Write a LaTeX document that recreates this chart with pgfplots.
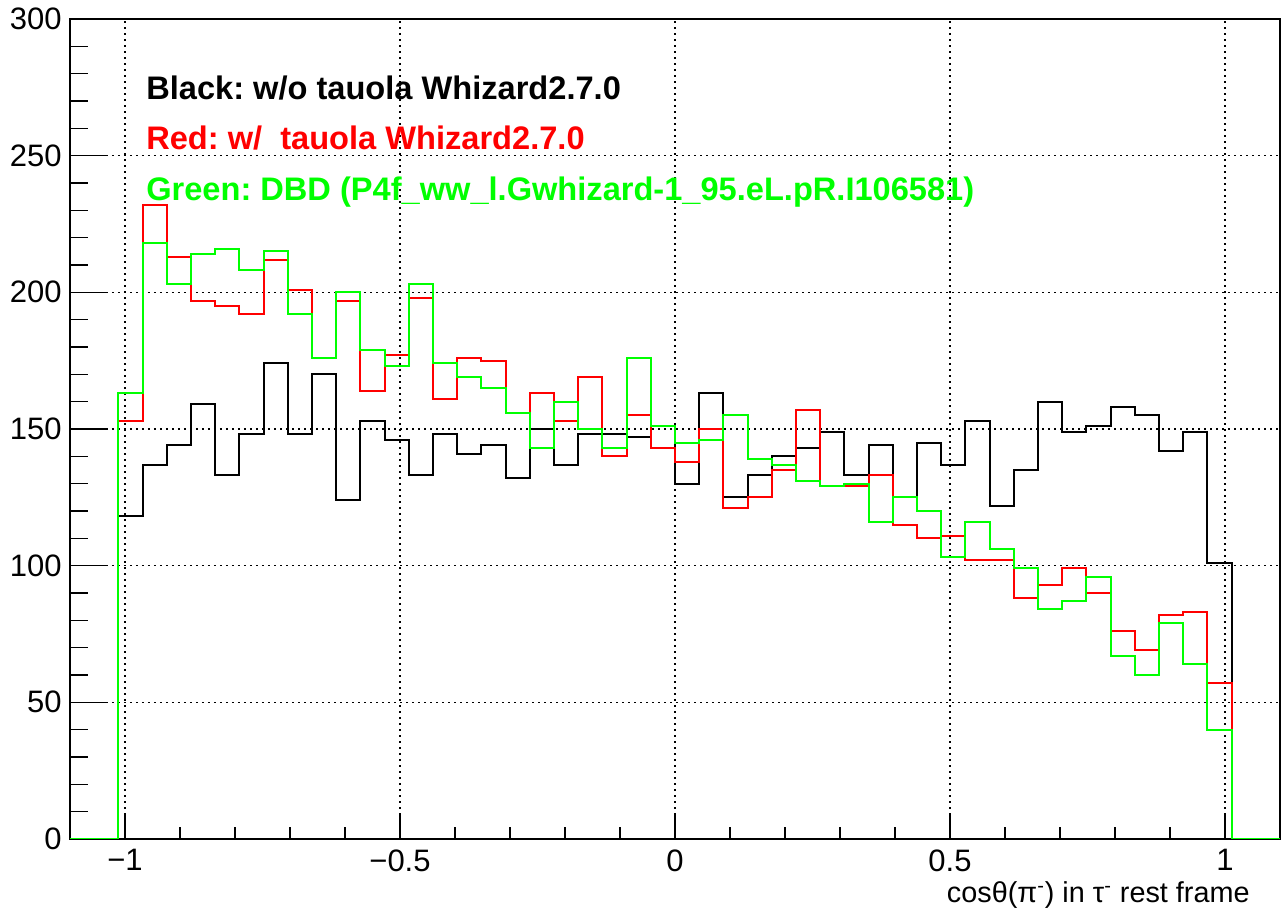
\documentclass[border=0pt]{standalone}
\usepackage{pgfplots}
\pgfplotsset{compat=1.18}
\usepackage{pgfplotstable}
\usepackage{fontspec}
\setmainfont{Liberation Sans}
\frenchspacing
\definecolor{rootred}{RGB}{255,0,0}
\definecolor{rootgreen}{RGB}{0,255,0}

\pgfplotstableread{
x black red green
-1.1 0 0 0
-1.056 0 0 0
-1.012 118 153 163
-0.968 137 232 218
-0.924 144 213 203
-0.88 159 197 214
-0.836 133 195 216
-0.792 148 192 208
-0.748 174 212 215
-0.704 148 201 192
-0.66 170 176 176
-0.616 124 197 200
-0.572 153 164 179
-0.528 146 177 173
-0.484 133 198 203
-0.44 148 161 174
-0.396 141 176 169
-0.352 144 175 165
-0.308 132 156 156
-0.264 150 163 143
-0.22 137 153 160
-0.176 148 169 150
-0.132 148 140 143
-0.088 147 155 176
-0.044 151 143 151
0 130 138 145
0.044 163 150 146
0.088 125 121 155
0.132 133 125 139
0.176 140 135 137
0.22 143 157 131
0.264 149 129 129
0.308 133 129 130
0.352 144 133 116
0.396 125 115 125
0.44 145 110 120
0.484 137 111 103
0.528 153 102 116
0.572 122 102 106
0.616 135 88 99
0.66 160 93 84
0.704 149 99 87
0.748 151 90 96
0.792 158 76 67
0.836 155 69 60
0.88 142 82 79
0.924 149 83 64
0.968 101 57 40
1.012 0 0 0
1.056 0 0 0
1.1 0 0 0
}\histdata

\begin{document}
\begin{tikzpicture}
\begin{axis}[
  scale only axis,
  width=605pt, height=410pt,
  xmin=-1.1, xmax=1.1, ymin=0, ymax=300,
  axis line style={line width=0.75pt, black},
  tick pos=left,
  tick align=inside,
  xtick={-1,-0.5,0,0.5,1},
  xticklabels={−1,−0.5,0,0.5,1},
  minor xtick={-1.1,-0.9,-0.8,-0.7,-0.6,-0.4,-0.3,-0.2,-0.1,0.1,0.2,0.3,0.4,0.6,0.7,0.8,0.9,1.1},
  ytick={0,50,100,150,200,250,300},
  yticklabels={0,50,100,150,200,250,300},
  minor ytick={10,20,30,40,60,70,80,90,110,120,130,140,160,170,180,190,210,220,230,240,260,270,280,290},
  xtick style={line width=0.75pt, black, /pgfplots/major tick length=12pt, /pgfplots/minor tick length=6pt},
  ytick style={line width=0.75pt, black, /pgfplots/major tick length=18pt, /pgfplots/minor tick length=9pt},
  ticklabel style={font=\fontsize{15.5}{18}\selectfont, inner sep=0pt},
  xticklabel style={anchor=north, yshift=-5pt},
  yticklabel style={anchor=east, xshift=-4pt},
  grid=major,
  major grid style={black, line width=0.65pt, dash pattern=on 1pt off 2pt},
  xlabel={cosθ(π\textsuperscript{-}) in τ\textsuperscript{-} rest frame},
  xlabel style={at={(rel axis cs:1,0)}, anchor=base east, inner sep=0pt, xshift=-15pt, yshift=-32pt, font=\fontsize{14.4}{17}\selectfont},
]
\addplot[const plot mark left, black, line width=1pt] table[x=x, y=black] {\histdata};
\addplot[const plot mark left, rootred, line width=1pt] table[x=x, y=red] {\histdata};
\addplot[const plot mark left, rootgreen, line width=1pt] table[x=x, y=green] {\histdata};
\node[anchor=base west, inner sep=0pt, text=black, font=\fontsize{16.3}{19}\selectfont\bfseries] at (axis cs:-0.962,270.6) {Black: w/o tauola Whizard2.7.0};
\node[anchor=base west, inner sep=0pt, text=rootred, font=\fontsize{16.3}{19}\selectfont\bfseries] at (axis cs:-0.962,252.1) {Red: w/\ \ tauola Whizard2.7.0};
\node[anchor=base west, inner sep=0pt, text=rootgreen, font=\fontsize{16.3}{19}\selectfont\bfseries] at (axis cs:-0.962,233.5) {Green: DBD (P4f\_ww\_l.Gwhizard-1\_95.eL.pR.I106581)};
\end{axis}
\pgfresetboundingbox
\useasboundingbox ([shift={(-35pt,-36pt)}]current axis.south west) rectangle ([shift={(1pt,9.5pt)}]current axis.north east);
\end{tikzpicture}
\end{document}
